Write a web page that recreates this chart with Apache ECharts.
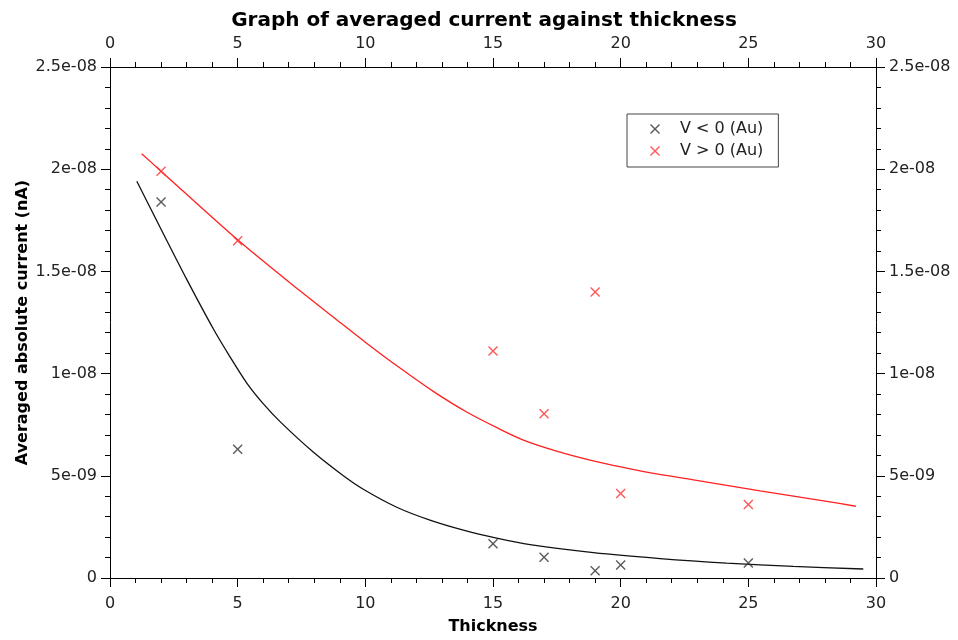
<!DOCTYPE html>
<html>
<head>
<meta charset="utf-8">
<script src="https://cdn.jsdelivr.net/npm/echarts@6/dist/echarts.min.js"></script>
<style>
  html, body { margin: 0; padding: 0; background: #fff; }
  #chart { width: 958px; height: 640px; }
</style>
</head>
<body>
<div id="chart"></div>
<script>
// Measured points: [thickness, averaged absolute current]
const negPoints = [[2, 1.84e-8], [5, 6.3e-9], [15, 1.68e-9], [17, 1.02e-9], [19, 3.6e-10], [20, 6.3e-10], [25, 7.3e-10]];
const posPoints = [[2, 1.99e-8], [5, 1.65e-8], [15, 1.111e-8], [17, 8.04e-9], [19, 1.399e-8], [20, 4.14e-9], [25, 3.6e-9]];

// Fitted trend lines
const negFit = [[1.05, 1.941e-8], [2.02, 1.701e-8], [3.0, 1.462e-8], [4.05, 1.218e-8], [4.7, 1.082e-8], [5.35, 9.55e-9],
  [6.0, 8.53e-9], [6.66, 7.65e-9], [7.96, 6.16e-9], [9.14, 5.00e-9], [9.92, 4.34e-9], [11.23, 3.46e-9],
  [12.53, 2.83e-9], [13.84, 2.34e-9], [15.14, 1.95e-9], [16.45, 1.63e-9], [18.93, 1.24e-9], [21.54, 9.5e-10],
  [24.15, 7.3e-10], [26.76, 5.7e-10], [29.5, 4.4e-10]];
const posFit = [[1.24, 2.076e-8], [2.02, 1.988e-8], [5.02, 1.652e-8], [7.44, 1.405e-8], [8.75, 1.276e-8], [10.05, 1.149e-8],
  [11.36, 1.027e-8], [12.66, 9.13e-9], [13.97, 8.12e-9], [15.27, 7.28e-9], [16.19, 6.75e-9], [17.49, 6.21e-9],
  [18.8, 5.77e-9], [20.1, 5.41e-9], [21.41, 5.09e-9], [22.85, 4.80e-9], [25.46, 4.26e-9], [28.07, 3.75e-9],
  [29.21, 3.51e-9]];

const seriesNames = ['V < 0 (Au)', 'V > 0 (Au)'];
const yTickLabels = ['0', '5e-09', '1e-08', '1.5e-08', '2e-08', '2.5e-08'];

const FONT = "'DejaVu Sans', Verdana, sans-serif";
const CROSS = 'path://M0,1 L1,0 L5,4 L9,0 L10,1 L6,5 L10,9 L9,10 L5,6 L1,10 L0,9 L4,5 Z';

const yFmt = v => yTickLabels[Math.round(v / 5e-9)] ?? '';

function xAxisDef(pos, showName, labelMargin) {
  return {
    type: 'value', position: pos, min: 0, max: 30, interval: 5,
    name: showName ? 'Thickness' : '', nameLocation: 'middle', nameGap: 41, nameMoveOverlap: false,
    nameTextStyle: { fontFamily: FONT, fontSize: 16, fontWeight: 'bold', color: '#000' },
    axisLine: { show: true, onZero: false, lineStyle: { color: '#000', width: 1 } },
    axisTick: { show: true, inside: false, length: 9, lineStyle: { color: '#000' } },
    minorTick: { show: true, splitNumber: 5, length: 5, lineStyle: { color: '#000' } },
    axisLabel: { margin: labelMargin, fontFamily: FONT, fontSize: 16, color: '#222' },
    splitLine: { show: false }
  };
}

function yAxisDef(pos, showName) {
  return {
    type: 'value', position: pos, min: 0, max: 2.5e-8, interval: 5e-9,
    name: showName ? 'Averaged absolute current (nA)' : '', nameLocation: 'middle', nameGap: 79, nameMoveOverlap: false,
    nameTextStyle: { fontFamily: FONT, fontSize: 16, fontWeight: 'bold', color: '#000' },
    axisLine: { show: true, onZero: false, lineStyle: { color: '#000', width: 1 } },
    axisTick: { show: true, inside: false, length: 9, lineStyle: { color: '#000' } },
    minorTick: { show: true, splitNumber: 5, length: 5, lineStyle: { color: '#000' } },
    axisLabel: { margin: 13, fontFamily: FONT, fontSize: 16, color: '#222', formatter: yFmt },
    splitLine: { show: false }
  };
}

const chart = echarts.init(document.getElementById('chart'), null, { renderer: 'canvas' });
chart.setOption({
  backgroundColor: '#fff',
  animation: false,
  title: {
    text: 'Graph of averaged current against thickness',
    left: 479, top: 6, textAlign: 'center',
    textStyle: { fontFamily: FONT, fontSize: 20, fontWeight: 'bold', color: '#000' }
  },
  grid: { left: 110, right: 82, top: 67, bottom: 60, containLabel: false },
  legend: {
    data: seriesNames,
    orient: 'vertical',
    left: 627, top: 114,
    padding: [7, 15, 8, 23],
    itemWidth: 40, itemHeight: 10, itemGap: 6,
    borderColor: '#444', borderWidth: 1,
    textStyle: { fontFamily: FONT, fontSize: 16, color: '#222' }
  },
  xAxis: [xAxisDef('bottom', true, 18), xAxisDef('top', false, 15)],
  yAxis: [yAxisDef('left', true), yAxisDef('right', false)],
  series: [
    {
      name: 'negFit', type: 'line', data: negFit, showSymbol: false, smooth: 0.3,
      lineStyle: { color: '#111', width: 1.3 }, silent: true, z: 2
    },
    {
      name: 'posFit', type: 'line', data: posFit, showSymbol: false, smooth: 0.3,
      lineStyle: { color: '#ff2020', width: 1.3 }, silent: true, z: 2
    },
    {
      name: seriesNames[0], type: 'scatter', data: negPoints, symbol: CROSS, symbolSize: 10,
      itemStyle: { color: '#333' }, z: 3
    },
    {
      name: seriesNames[1], type: 'scatter', data: posPoints, symbol: CROSS, symbolSize: 10,
      itemStyle: { color: '#ff3030' }, z: 3
    }
  ]
});
</script>
</body>
</html>
